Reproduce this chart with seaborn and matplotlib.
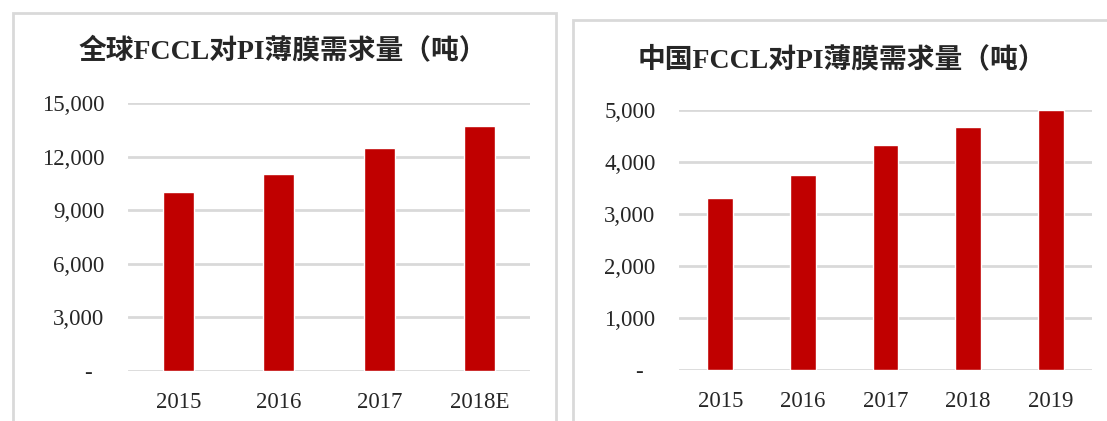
import numpy as np
import pandas as pd
import matplotlib
matplotlib.use('Agg')
import matplotlib.pyplot as plt
import seaborn as sns
from matplotlib.patches import Rectangle

# data
global_years = ['2015', '2016', '2017', '2018E']
global_demand = [10000, 11000, 12500, 13700]
china_years = ['2015', '2016', '2017', '2018', '2019']
china_demand = [3300, 3750, 4330, 4680, 5000]

global_title = '全球FCCL对PI薄膜需求量（吨）'
china_title = '中国FCCL对PI薄膜需求量（吨）'

sns.set_style('white')
plt.rcParams['font.family'] = ['Liberation Serif', 'Noto Sans CJK SC']

bar_color = '#C00000'
grid_color = '#D9D9D9'
text_color = '#262626'

W, H = 1107, 421
fig = plt.figure(figsize=(W / 100, H / 100), dpi=100)

# panel frames
fig.patches.append(Rectangle((13 / W, -0.1), (556 - 13) / W, 1.1 - 13 / H,
                             transform=fig.transFigure, fill=False,
                             edgecolor=grid_color, lw=2, zorder=0))
fig.patches.append(Rectangle((573 / W, -0.1), (1120 - 573) / W, 1.1 - 20 / H,
                             transform=fig.transFigure, fill=False,
                             edgecolor=grid_color, lw=2, zorder=0))


def fmt(v):
    return '-  ' if v == 0 else f'{v:,}'


def draw(ax, years, vals, yticks, title, tx, ty):
    df = pd.DataFrame({'year': years, 'demand': vals})
    sns.barplot(data=df, x='year', y='demand', color=bar_color, saturation=1,
                width=0.31, ax=ax)
    ax.set_ylim(0, yticks[-1])
    ax.set_xlim(-0.5, len(years) - 0.5)
    ax.set_yticks(yticks)
    ax.set_yticklabels([fmt(v) for v in yticks])
    ax.yaxis.grid(True, color=grid_color, lw=2)
    ax.set_axisbelow(True)
    for s in ax.spines.values():
        s.set_visible(False)
    ax.tick_params(axis='y', length=0, pad=17, labelsize=16.5, labelcolor=text_color)
    ax.tick_params(axis='x', length=0, pad=15, labelsize=16.5, labelcolor=text_color)
    ax.set_xlabel('')
    ax.set_ylabel('')
    fig.text(tx, ty, title, ha='center', va='center', fontsize=20,
             fontweight='bold', color=text_color,
             family=['Liberation Serif', 'Noto Sans CJK SC'])


ax1 = fig.add_axes([128 / W, 1 - 371 / H, (530 - 128) / W, (371 - 103) / H])
draw(ax1, global_years, global_demand, list(range(0, 15001, 3000)),
     global_title, 283 / W, 1 - 52 / H)

ax2 = fig.add_axes([679 / W, 1 - 370 / H, (1092 - 679) / W, (370 - 110) / H])
draw(ax2, china_years, china_demand, list(range(0, 5001, 1000)),
     china_title, 842 / W, 1 - 60 / H)

fig.savefig('out.png', dpi=100)
